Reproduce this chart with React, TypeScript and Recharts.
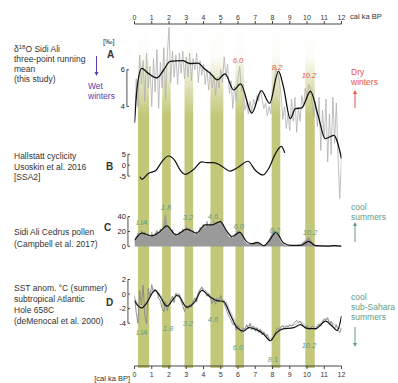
import { ComposedChart, Line, Area, XAxis, YAxis, ReferenceArea, ReferenceLine, ReferenceDot } from 'recharts'

// evenly sampled records start at 0 ka with this step (ka)
const STEP = 0.1

const kaTicks = [0, 1, 2, 3, 4, 5, 6, 7, 8, 9, 10, 11, 12]

// humid winter / cool phases (ka BP)
const bands = [[0.2, 0.85], [1.6, 2.1], [2.9, 3.4], [4.4, 5.15], [5.85, 6.35], [7.95, 8.45], [9.9, 10.45]]

// A: d18O Sidi Ali (‰), raw record
const d18oRaw = [
  3.2, 5.5, 4.0, 6.8, 5.2, 6.5, 4.3, 6.9, 5.0, 6.2,
  4.0, 6.6, 4.8, 7.1, 3.9, 6.4, 5.0, 7.2, 4.4, 6.8,
  8.3, 5.3, 7.0, 5.6, 6.8, 5.2, 6.9, 5.8, 7.0, 5.5,
  6.7, 5.6, 6.9, 5.4, 6.6, 6.0, 6.9, 5.3, 6.5, 5.7,
  6.3, 5.2, 6.0, 4.9, 5.9, 5.0, 5.7, 4.6, 5.6, 5.0,
  6.0, 5.3, 6.7, 5.6, 6.3, 4.7, 5.4, 3.9, 5.1, 4.3,
  5.6, 6.2, 4.8, 5.2, 3.8, 4.2, 3.6, 4.3, 3.7, 4.4,
  4.0, 4.6, 4.3, 4.9, 4.4, 3.9, 4.2, 3.5, 4.0, 3.6,
  4.8, 5.3, 6.1, 5.8, 5.4, 4.6, 3.3, 4.0, 2.8, 3.6,
  2.7, 4.4, 3.2, 4.5, 2.6, 3.9, 3.2, 4.6, 4.0, 5.0,
  4.4, 5.2, 5.0, 4.1, 3.4, 4.3, 2.9, 4.5, 1.6, 3.8,
  2.2, 4.4, 1.0, 3.6, 1.4, 4.5, 2.0, 4.2, 1.2, -1.0,
  1.4,
]
// A: three-point running mean (smoothed), [ka, ‰]
const d18oMean = [
  [0, 3.1], [0.15, 5.0], [0.42, 6.07], [0.8, 5.8], [1.29, 5.55], [1.7, 6.0], [2.06, 6.45],
  [2.8, 6.49], [3.2, 6.34], [3.7, 6.36], [4.0, 6.1], [4.4, 5.8], [4.8, 5.45], [5.25, 5.78],
  [5.75, 4.9], [6.15, 5.23], [6.8, 3.64], [7.35, 4.86], [7.83, 4.18], [8.35, 5.91],
  [8.64, 5.04], [9.03, 3.34], [9.32, 3.88], [9.7, 3.93], [10.2, 4.83], [10.62, 3.6],
  [11.06, 2.25], [11.55, 2.43], [12, 1.17],
]

// B: Hallstatt cyclicity (SSA2)
const hallstatt = [
  [0.32, -5.3], [0.42, -6.5], [0.8, -3.8], [1.25, -2.3], [1.58, 1.5], [1.97, 4.2], [2.35, 2.0],
  [2.65, -2.3], [2.94, -4.2], [3.42, -2.0], [3.9, 1.5], [4.2, 1.2], [4.58, 1.2], [4.97, 0],
  [5.55, -2.7], [6.03, -0.8], [6.58, 1.8], [7.0, -2.3], [7.45, -4.5], [7.78, -1.5],
  [8.17, 5.3], [8.52, 8.6], [8.71, 5.6],
]

// C: Cedrus pollen (%)
const cedrusRaw = [
  5, 12, 18, 14, 22, 16, 20, 12, 17, 11,
  19, 13, 18, 22, 15, 24, 19, 30, 44, 24,
  28, 20, 23, 14, 18, 13, 20, 16, 24, 19,
  27, 21, 25, 17, 22, 14, 20, 17, 26, 22,
  30, 24, 34, 27, 31, 26, 35, 29, 33, 28,
  36, 30, 25, 21, 16, 12, 14, 11, 16, 18,
  22, 20, 15, 9, 6, 4, 3, 4, 3, 5,
  6, 5, 4, 2, 1, 1, 2, 5, 9, 14,
  19, 22, 20, 16, 10, 6, 3, 2, 1, 1,
  1, 1, 1, 1, 1, 2, 2, 4, 6, 8,
  10, 13, 9, 5, 2, 1, 1, 1, 0.5, 0.5,
  0.5, 1, 1, 1, 0.5, 1, 1.5, 1, 0.5, 0.5,
  0.5,
]
const cedrusMean = [
  [0, 8], [0.42, 17.8], [1.0, 14.2], [1.48, 20], [1.87, 27.6], [2.41, 15.6], [3.03, 23.2],
  [3.58, 17.8], [4.1, 28.9], [4.49, 28.9], [4.97, 33.3], [5.36, 20], [5.65, 13.3], [6.1, 18.7],
  [6.48, 6.7], [6.81, 3.6], [7.14, 5.3], [7.49, 0.9], [7.78, 6.7], [8.2, 18.7], [8.65, 4.4],
  [9.04, 1.3], [9.62, 1.3], [10.1, 6.7], [10.5, 1.0], [11.17, 0.5], [11.56, 1.0], [12, 0.5],
]

// D: SST anomaly (°C), Hole 658C
const sstRaw = [
  -0.2, -2.5, -4.0, 0.5, -1.5, 1.2, -3.0, -4.1, 0.8, -0.3,
  1.3, 0.2, 0.7, 0.4, -0.6, -0.9, -2.0, -2.4, -1.0, -2.3,
  -1.4, -0.8, -0.3, -1.2, 0.1, -0.4, 0.0, -0.9, -1.6, -2.4,
  -1.5, -2.0, -1.4, -1.8, -1.0, -0.5, -1.1, 0.2, 0.6, 1.0,
  0.4, 0.3, -0.3, 0.1, -0.5, -1.3, -0.6, -1.4, -0.5, -1.1,
  -0.2, -1.0, -1.3, -2.0, -2.6, -3.2, -3.6, -4.2, -4.0, -5.0,
  -4.3, -4.8, -5.3, -4.6, -4.9, -4.2, -4.7, -4.0, -4.9, -4.4,
  -5.1, -4.6, -5.3, -4.8, -5.6, -5.2, -5.9, -5.5, -6.2, -6.4,
  -6.0, -5.8, -5.0, -4.6, -4.9, -4.5, -4.3, -4.7, -4.4, -4.5,
  -4.2, -4.4, -4.1, -3.9, -3.6, -3.9, -3.7, -4.1, -4.4, -4.7,
  -4.3, -4.9, -4.8, -4.4, -4.6, -4.9, -4.3, -4.1, -4.4, -3.9,
  -3.4, -3.6, -3.2, -4.2, -3.7, -4.4, -4.7, -4.2, -5.0, -5.3,
  -4.6,
]
const sstAlt = [
  [0, -0.6], [0.3, -1.4], [0.6, -1.5], [1.1, 0.7], [1.5, -0.1], [1.9, -1.4], [2.5, 0.1],
  [3.0, -1.6], [3.5, -0.8], [3.9, 0.8], [4.4, -0.2], [4.8, -0.7], [5.2, -0.8], [5.6, -2.6],
  [6.0, -4.3], [6.3, -4.8], [6.6, -4.3], [7.0, -4.6], [7.5, -5.2], [7.9, -6.1], [8.3, -4.8],
  [8.6, -4.4], [9.2, -4.3], [9.6, -3.8], [10.0, -4.4], [10.5, -4.5], [11.1, -3.4],
  [11.4, -3.9], [11.8, -4.5], [12, -4.9],
]
const sstMean = [
  [0, -0.9], [0.22, -1.66], [0.42, -1.9], [0.71, -1.2], [1.19, 0.5], [1.48, -0.3], [1.87, -1.66],
  [2.49, -0.16], [3.03, -1.8], [3.52, -1.0], [3.9, 0.5], [4.39, -0.4], [4.78, -0.9], [5.16, -1.0],
  [5.55, -2.8], [5.94, -4.6], [6.33, -5.07], [6.62, -4.6], [7.0, -4.8], [7.49, -5.5], [7.88, -6.4],
  [8.2, -5.4], [8.56, -4.8], [9.23, -4.6], [9.62, -4.2], [10.0, -4.7], [10.5, -4.75],
  [11.08, -3.7], [11.37, -4.2], [11.76, -5.0], [12, -3.0],
]

const bracketA = [6, 4]
const bracketB = [5, 0, -5]
const bracketC = [40, 20, 0]
const bracketD = [2, 0, -2, -4]

const W = 398
const H = 383
const TOP = 23
const BOTTOM = 367
const LEFT = 134.5
const RIGHT = 341.5
const AXIS_H = 1

// y domain so that v1 sits at pixel p1 and v2 at pixel p2
const span = (v1: number, p1: number, v2: number, p2: number) => {
  const k = (v1 - v2) / (p2 - p1)
  return [v2 - (BOTTOM - p2) * k, v1 + (p1 - TOP) * k]
}

const domA = span(6, 69, 4, 106)
const domB = span(5, 154, -5, 176)
const domC = span(40, 216.7, 0, 246.7)
const domD = span(2, 280, -4, 324)

const grid = (vals: number[]) => vals.map((v, i) => ({ t: +(i * STEP).toFixed(2), v }))
const pairs = (pts: number[][]) => pts.map(([t, v]) => ({ t, v }))
const minorTicks = Array.from({ length: 61 }, (_, i) => +(i * 0.2).toFixed(1))

const FONT = '"Liberation Sans", Arial, sans-serif'
const GREEN = '#5e9e8a'
const RED = '#e5534b'
const PURPLE = '#5b3cb0'
const BAND = '#c3c779'

const margin = { top: TOP - AXIS_H, bottom: H - BOTTOM - AXIS_H, left: LEFT, right: W - RIGHT }

const bracket = (id: string, vals: number[], xb: number) => {
  const top = vals[0]
  const bottom = vals[vals.length - 1]
  return [
    <ReferenceLine key={id + 'v'} xAxisId="b" yAxisId={id} ifOverflow="visible" stroke="#222" strokeWidth={0.8}
      segment={[{ x: xb, y: top }, { x: xb, y: bottom }]} />,
    ...vals.map((v) => (
      <ReferenceLine key={id + 't' + v} xAxisId="b" yAxisId={id} ifOverflow="visible" stroke="#222" strokeWidth={0.8}
        segment={[{ x: xb, y: v }, { x: xb + 0.12, y: v }]} />
    )),
    ...vals.map((v) => (
      <ReferenceDot key={id + 'l' + v} xAxisId="b" yAxisId={id} x={xb} y={v} r={0} ifOverflow="visible"
        label={{ value: String(v), position: 'left', offset: 2, fontSize: 7.5, fill: '#222', fontFamily: FONT }} />
    )),
  ]
}

const Txt = ({ x, y, children, fill = '#333', size = 8.5, anchor = 'start', weight = 'normal', italic = false }: any) => (
  <text x={x} y={y} fill={fill} fontSize={size} textAnchor={anchor} fontWeight={weight}
    fontStyle={italic ? 'italic' : 'normal'} fontFamily={FONT}>{children}</text>
)

const Arrow = ({ x, y1, y2, color }: any) => {
  const dir = y2 > y1 ? 1 : -1
  return (
    <g>
      <line x1={x} y1={y1} x2={x} y2={y2 - dir * 3} stroke={color} strokeWidth={1} />
      <polygon points={`${x - 2},${y2 - dir * 4} ${x + 2},${y2 - dir * 4} ${x},${y2}`} fill={color} />
    </g>
  )
}

const axisProps = {
  type: 'number' as const,
  dataKey: 't',
  domain: [0, 12],
  allowDataOverflow: true,
  height: AXIS_H,
  interval: 0 as const,
  stroke: '#444',
}

const layer = { position: 'absolute' as const, left: 0, top: 0 }

export default function App() {
  return (
    <div style={{ position: 'absolute', left: 0, top: 0, width: W, height: H, background: '#fff' }}>
      <svg width={0} height={0} style={{ position: 'absolute' }}>
        <defs>
          <linearGradient id="bandFade" x1="0" y1="0" x2="0" y2="1">
            <stop offset="0" stopColor={BAND} stopOpacity={0} />
            <stop offset="0.1" stopColor={BAND} stopOpacity={0.05} />
            <stop offset="0.27" stopColor={BAND} stopOpacity={1} />
            <stop offset="1" stopColor={BAND} stopOpacity={1} />
          </linearGradient>
        </defs>
      </svg>

      {/* background: the green phase bands */}
      <div style={layer}>
        <ComposedChart width={W} height={H} margin={margin}>
          <XAxis xAxisId="b" hide {...axisProps} />
          <YAxis yAxisId="band" hide type="number" domain={[0, 1]} allowDataOverflow />
          {bands.map(([a, b], i) => (
            <ReferenceArea key={'band' + i} xAxisId="b" yAxisId="band" x1={a} x2={b} fill="url(#bandFade)" fillOpacity={1} stroke="none" />
          ))}
        </ComposedChart>
      </div>

      {/* records and axes */}
      <div style={layer}>
        <ComposedChart width={W} height={H} margin={margin}>
          <XAxis xAxisId="t" orientation="top" ticks={kaTicks} tickSize={3} tickMargin={1}
            tick={{ fontSize: 7, fill: '#333', fontFamily: FONT }} {...axisProps} />
          <XAxis xAxisId="tm" orientation="top" ticks={minorTicks} tickSize={1.5} tick={false} axisLine={false} {...axisProps} />
          <XAxis xAxisId="b" orientation="bottom" ticks={kaTicks} tickSize={3} tickMargin={3}
            tick={{ fontSize: 7, fill: '#333', fontFamily: FONT }} {...axisProps} />
          <XAxis xAxisId="bm" orientation="bottom" ticks={minorTicks} tickSize={1.5} tick={false} axisLine={false} {...axisProps} />
          <YAxis yAxisId="A" hide type="number" domain={domA} allowDataOverflow />
          <YAxis yAxisId="B" hide type="number" domain={domB} allowDataOverflow />
          <YAxis yAxisId="C" hide type="number" domain={domC} allowDataOverflow />
          <YAxis yAxisId="D" hide type="number" domain={domD} allowDataOverflow />

          <Line data={grid(d18oRaw)} dataKey="v" xAxisId="b" yAxisId="A" type="linear" stroke="#b0b0b0" strokeWidth={0.8} dot={false} isAnimationActive={false} />
          <Line data={pairs(d18oMean)} dataKey="v" xAxisId="b" yAxisId="A" type="monotone" stroke="#111" strokeWidth={1.3} dot={false} isAnimationActive={false} />

          <Line data={pairs(hallstatt)} dataKey="v" xAxisId="b" yAxisId="B" type="monotone" stroke="#111" strokeWidth={1.2} dot={false} isAnimationActive={false} />

          <Area data={grid(cedrusRaw)} dataKey="v" xAxisId="b" yAxisId="C" type="linear" baseValue={0} fill="#9a9a9a" fillOpacity={1} stroke="#9a9a9a" strokeWidth={0.5} isAnimationActive={false} />
          <Line data={pairs(cedrusMean)} dataKey="v" xAxisId="b" yAxisId="C" type="monotone" stroke="#111" strokeWidth={1.2} dot={false} isAnimationActive={false} />

          <Line data={pairs(sstAlt)} dataKey="v" xAxisId="b" yAxisId="D" type="monotone" stroke="#b5b5b5" strokeWidth={0.9} dot={false} isAnimationActive={false} />
          <Line data={grid(sstRaw)} dataKey="v" xAxisId="b" yAxisId="D" type="linear" stroke="#888" strokeWidth={0.9} dot={false} isAnimationActive={false} />
          <Line data={pairs(sstMean)} dataKey="v" xAxisId="b" yAxisId="D" type="monotone" stroke="#111" strokeWidth={1.2} dot={false} isAnimationActive={false} />

          {bracket('A', bracketA, -0.44)}
          {bracket('B', bracketB, -0.38)}
          {bracket('C', bracketC, -0.38)}
          {bracket('D', bracketD, -0.38)}
        </ComposedChart>
      </div>

      <svg width={W} height={H} style={{ ...layer, pointerEvents: 'none' }}>
        <Txt x={350} y={19} size={7.5}>cal ka BP</Txt>
        <Txt x={130} y={381} size={7.5} anchor="end">[cal ka BP]</Txt>

        <text x={14} y={52} fill="#333" fontSize={8.5} fontFamily={FONT}>
          δ<tspan dy={-3} fontSize={6}>18</tspan><tspan dy={3}>O Sidi Ali</tspan>
        </text>
        <Txt x={14} y={62}>three-point running</Txt>
        <Txt x={14} y={71.5}>mean</Txt>
        <Txt x={14} y={82}>(this study)</Txt>
        <Txt x={103} y={44} size={7.5}>[‰]</Txt>
        <Txt x={107} y={58} size={10} weight="bold">A</Txt>
        <Arrow x={96.5} y1={56} y2={76} color={PURPLE} />
        <Txt x={88} y={89} fill={PURPLE}>Wet</Txt>
        <Txt x={88} y={98.5} fill={PURPLE}>winters</Txt>
        <Txt x={351} y={75} fill={RED}>Dry</Txt>
        <Txt x={351} y={85} fill={RED}>winters</Txt>
        <Arrow x={355} y1={108} y2={90} color={RED} />
        <Txt x={238} y={63} fill={RED} size={7.5} anchor="middle" italic>6.0</Txt>
        <Txt x={277} y={70} fill={RED} size={7.5} anchor="middle" italic>8.2</Txt>
        <Txt x={309} y={78} fill={RED} size={7.5} anchor="middle" italic>10.2</Txt>

        <Txt x={14} y={159}>Hallstatt cyclicity</Txt>
        <Txt x={14} y={169.5}>Usoskin et al. 2016</Txt>
        <Txt x={14} y={180}>[SSA2]</Txt>
        <Txt x={106} y={170} size={10} weight="bold">B</Txt>

        <Txt x={14} y={235}>Sidi Ali Cedrus pollen</Txt>
        <Txt x={14} y={247}>(Campbell et al. 2017)</Txt>
        <Txt x={104} y={231} size={10} weight="bold">C</Txt>
        <Txt x={142} y={225} fill={GREEN} size={7.5} anchor="middle" italic>LIA</Txt>
        <Txt x={166} y={210} fill={GREEN} size={7.5} anchor="middle" italic>1.8</Txt>
        <Txt x={188} y={220} fill={GREEN} size={7.5} anchor="middle" italic>3.2</Txt>
        <Txt x={213} y={219} fill={GREEN} size={7.5} anchor="middle" italic>4.6</Txt>
        <Txt x={239} y={229} fill={GREEN} size={7.5} anchor="middle" italic>6.0</Txt>
        <Txt x={275} y={233} fill={GREEN} size={7.5} anchor="middle" italic>8.2</Txt>
        <Txt x={310} y={235} fill={GREEN} size={7.5} anchor="middle" italic>10.2</Txt>
        <Txt x={351} y={210} fill={GREEN}>cool</Txt>
        <Txt x={351} y={219.5} fill={GREEN}>summers</Txt>
        <Arrow x={355} y1={242} y2={222} color={GREEN} />

        <Txt x={14} y={291}>SST anom. °C (summer)</Txt>
        <Txt x={14} y={302}>subtropical Atlantic</Txt>
        <Txt x={14} y={313}>Hole 658C</Txt>
        <Txt x={14} y={324}>(deMenocal et al. 2000)</Txt>
        <Txt x={106} y={306} size={10} weight="bold">D</Txt>
        <Txt x={142} y={335} fill={GREEN} size={7.5} anchor="middle" italic>LIA</Txt>
        <Txt x={168} y={331} fill={GREEN} size={7.5} anchor="middle" italic>1.8</Txt>
        <Txt x={188} y={326} fill={GREEN} size={7.5} anchor="middle" italic>3.2</Txt>
        <Txt x={213} y={322} fill={GREEN} size={7.5} anchor="middle" italic>4.6</Txt>
        <Txt x={238} y={350} fill={GREEN} size={7.5} anchor="middle" italic>6.0</Txt>
        <Txt x={273} y={362} fill={GREEN} size={7.5} anchor="middle" italic>8.1</Txt>
        <Txt x={309} y={348} fill={GREEN} size={7.5} anchor="middle" italic>10.2</Txt>
        <Txt x={351} y={300} fill={GREEN}>cool</Txt>
        <Txt x={351} y={310} fill={GREEN}>sub-Sahara</Txt>
        <Txt x={351} y={320} fill={GREEN}>summers</Txt>
        <Arrow x={355} y1={327} y2={347} color={GREEN} />
      </svg>
    </div>
  )
}
